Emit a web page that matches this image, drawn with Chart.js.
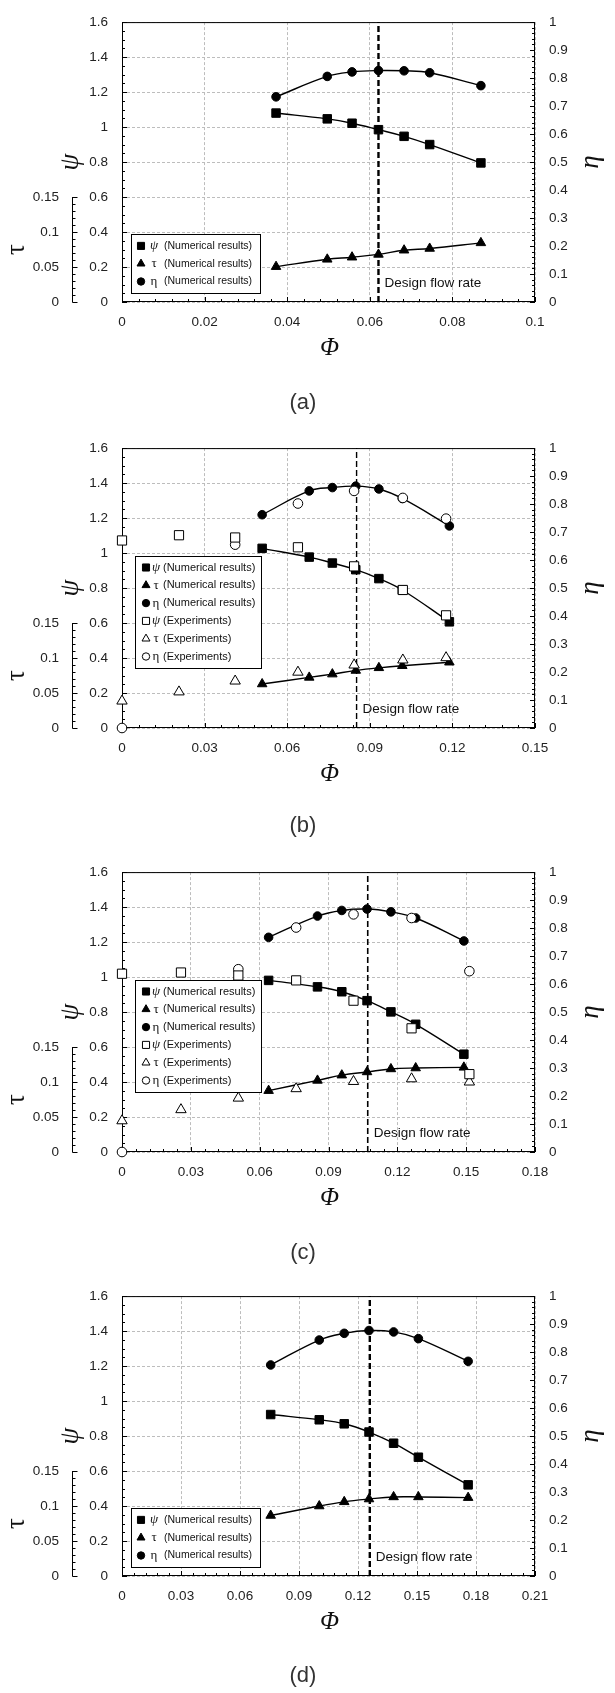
<!DOCTYPE html>
<html>
<head>
<meta charset="utf-8">
<script src="https://cdn.jsdelivr.net/npm/chart.js@4.4.1/dist/chart.umd.min.js"></script>
<style>
  body { margin: 0; background: #fff; width: 615px; height: 1693px; overflow: hidden; position: relative; }
  canvas { position: absolute; left: 0; }
  .cap { position: absolute; width: 40px; margin-left: -20px; text-align: center; font: 22px "Liberation Sans", Arial, sans-serif; color: #333; line-height: 26px; }
</style>
</head>
<body>
<canvas id="chartA" width="615" height="424" style="top:0px"></canvas>
<canvas id="chartB" width="615" height="424" style="top:426px"></canvas>
<canvas id="chartC" width="615" height="424" style="top:850px"></canvas>
<canvas id="chartD" width="615" height="424" style="top:1274px"></canvas>
<div class="cap" style="left:303px; top:389px">(a)</div>
<div class="cap" style="left:303px; top:812px">(b)</div>
<div class="cap" style="left:303px; top:1239px">(c)</div>
<div class="cap" style="left:303px; top:1662px">(d)</div>
<script>
// Axis ranges for the four panels
const X_MAX = [0.1, 0.15, 0.18, 0.21];
const X_STEP = [0.02, 0.03, 0.03, 0.03];
const DESIGN_PHI = [0.0621, 0.0852, 0.1071, 0.126];

// (a) numerical results
const PHI_A = [0.0373, 0.0497, 0.0557, 0.0621, 0.0683, 0.0745, 0.0869];
const PSI_A = [1.08, 1.047, 1.022, 0.985, 0.947, 0.90, 0.795];
const TAU_A = [0.0505, 0.061, 0.064, 0.068, 0.074, 0.0765, 0.0845];
const ETA_A = [0.733, 0.806, 0.822, 0.827, 0.826, 0.819, 0.773];

// (b) numerical results + experiments
const PHI_B = [0.0509, 0.068, 0.0764, 0.0849, 0.0933, 0.1018, 0.1189];
const PSI_B = [1.027, 0.977, 0.943, 0.905, 0.854, 0.789, 0.607];
const TAU_B = [0.0629, 0.0723, 0.077, 0.0822, 0.086, 0.089, 0.094];
const ETA_B = [0.762, 0.847, 0.859, 0.864, 0.854, 0.82, 0.722];
const PHI_B_EXP = [0, 0.0207, 0.0411, 0.0639, 0.0843, 0.102, 0.1177];
const PSI_B_EXP = [1.072, 1.102, 1.089, 1.033, 0.924, 0.789, 0.644];
const TAU_B_EXP = [0.0385, 0.0516, 0.0671, 0.0798, 0.090, 0.0972, 0.1005];
const ETA_B_EXP = [0, null, 0.655, 0.802, 0.847, 0.822, 0.748];

// (c) numerical results + experiments
const PHI_C = [0.0639, 0.0852, 0.0958, 0.1068, 0.1172, 0.128, 0.149];
const PSI_C = [0.981, 0.944, 0.916, 0.865, 0.801, 0.730, 0.559];
const TAU_C = [0.0877, 0.1023, 0.1098, 0.1144, 0.1187, 0.12, 0.121];
const ETA_C = [0.767, 0.843, 0.863, 0.868, 0.858, 0.836, 0.754];
const PHI_C_EXP = [0, 0.0257, 0.0507, 0.0759, 0.1009, 0.1262, 0.1514];
const PSI_C_EXP = [1.019, 1.026, 1.009, 0.981, 0.865, 0.707, 0.445];
const TAU_C_EXP = [0.0446, 0.0605, 0.077, 0.0905, 0.1008, 0.1046, 0.1];
const ETA_C_EXP = [0, null, 0.653, 0.802, 0.849, 0.836, 0.646];

// (d) numerical results
const PHI_D = [0.0756, 0.1003, 0.113, 0.1256, 0.1381, 0.1507, 0.176];
const PSI_D = [0.923, 0.893, 0.870, 0.823, 0.759, 0.679, 0.521];
const TAU_D = [0.0865, 0.100, 0.106, 0.110, 0.113, 0.113, 0.112];
const ETA_D = [0.754, 0.843, 0.867, 0.877, 0.872, 0.848, 0.767];

const NUM_LABEL = '(Numerical results)';
const EXP_LABEL = '(Experiments)';
const TICK_FONT = '"Liberation Sans", Arial, sans-serif';
const TEXT_FONT = '"Liberation Sans", Arial, sans-serif';
const SERIF = '"Liberation Serif", "DejaVu Serif", serif';

function pts(xs, ys) {
    const out = [];
    xs.forEach((x, i) => { if (ys[i] !== null) out.push({ x: x, y: ys[i] }); });
    return out;
}

function markerSet(label, sym, xs, ys, axis, style, radius, filled, line) {
    return {
        label: label,
        sym: sym,
        data: pts(xs, ys),
        yAxisID: axis,
        pointStyle: style,
        pointRadius: radius,
        pointHoverRadius: radius,
        pointBackgroundColor: filled ? '#000' : '#fff',
        pointBorderColor: '#000',
        pointBorderWidth: 1,
        filled: filled,
        borderColor: '#000',
        borderWidth: 1.4,
        showLine: line,
        tension: 0.4,
        fill: false,
        clip: false,
        order: filled ? 1 : 0
    };
}

function buildDatasets(num, exp, design, designWidth) {
    const sets = [
        markerSet(NUM_LABEL, 'ψ', num[0], num[1], 'y', 'rect', 6, true, true),
        markerSet(NUM_LABEL, 'τ', num[0], num[2], 'yTau', 'triangle', 5.5, true, true),
        markerSet(NUM_LABEL, 'η', num[0], num[3], 'yEta', 'circle', 4.3, true, true)
    ];
    if (exp) {
        sets.push(markerSet(EXP_LABEL, 'ψ', exp[0], exp[1], 'y', 'rect', 6.5, false, false));
        sets.push(markerSet(EXP_LABEL, 'τ', exp[0], exp[2], 'yTau', 'triangle', 6, false, false));
        sets.push(markerSet(EXP_LABEL, 'η', exp[0], exp[3], 'yEta', 'circle', 4.8, false, false));
    }
    sets.push({
        label: 'Design flow rate',
        data: [{ x: design, y: 0 }, { x: design, y: 1.6 }],
        yAxisID: 'y',
        borderColor: '#000',
        borderWidth: designWidth,
        borderDash: [6, 3],
        pointRadius: 0,
        showLine: true,
        tension: 0,
        order: 2
    });
    return sets;
}

function fmt(v) {
    return String(Number(v.toFixed(3)));
}

// Frame, inward ticks, tau sub-axis, titles, legend and design label
const decor = {
    id: 'decor',
    beforeDatasetsDraw(chart, args, opts) {
        const { ctx, chartArea: a, scales } = chart;
        const yS = scales.y, eS = scales.yEta, tS = scales.yTau, xS = scales.x;
        ctx.save();
        ctx.strokeStyle = '#000';
        ctx.lineWidth = 1;
        ctx.strokeRect(a.left + 0.5, a.top + 0.5, a.right - a.left - 1, a.bottom - a.top - 1);
        ctx.beginPath();
        const seg = (x1, y1, x2, y2) => { ctx.moveTo(x1, y1); ctx.lineTo(x2, y2); };
        for (let i = 0; i <= 32; i++) {
            const py = Math.round(yS.getPixelForValue(i * 0.05)) + 0.5;
            seg(a.left, py, a.left + (i % 4 === 0 ? 5 : 3), py);
        }
        for (let i = 0; i <= 50; i++) {
            const py = Math.round(eS.getPixelForValue(i * 0.02)) + 0.5;
            seg(a.right, py, a.right - (i % 5 === 0 ? 5 : 3), py);
        }
        const n = Math.round(opts.xMax / opts.xStep * 5);
        for (let i = 0; i <= n; i++) {
            const px = Math.round(xS.getPixelForValue(i * opts.xStep / 5)) + 0.5;
            seg(px, a.bottom, px, a.bottom - (i % 5 === 0 ? 5 : 3));
        }
        const tx = Math.round(tS.right) + 0.5;
        seg(tx, tS.getPixelForValue(0) + 0.5, tx, tS.getPixelForValue(0.15));
        for (let i = 0; i <= 15; i++) {
            const py = Math.round(tS.getPixelForValue(i * 0.01)) + 0.5;
            seg(tx, py, tx + (i % 5 === 0 ? 5 : 3), py);
        }
        ctx.stroke();
        ctx.restore();
    },
    afterDatasetsDraw(chart, args, opts) {
        const { ctx, chartArea: a, scales } = chart;
        ctx.save();
        ctx.fillStyle = '#111';

        // design flow rate label
        ctx.font = '13.5px ' + TEXT_FONT;
        ctx.textAlign = 'left';
        ctx.textBaseline = 'middle';
        ctx.fillText('Design flow rate', scales.x.getPixelForValue(opts.design) + 6, a.bottom - 19);

        // axis titles
        const rotText = (t, x, y, font) => {
            ctx.save();
            ctx.translate(x, y);
            ctx.rotate(-Math.PI / 2);
            ctx.font = font;
            ctx.textAlign = 'center';
            ctx.textBaseline = 'middle';
            ctx.fillText(t, 0, 0);
            ctx.restore();
        };
        rotText('ψ', a.left - 51, scales.y.getPixelForValue(0.8), 'italic 27px ' + SERIF);
        rotText('η', a.right + 56, scales.yEta.getPixelForValue(0.5), 'italic 27px ' + SERIF);
        rotText('τ', 17, scales.yTau.getPixelForValue(0.075), '27px ' + SERIF);
        ctx.font = 'italic 25px ' + SERIF;
        ctx.textAlign = 'center';
        ctx.textBaseline = 'middle';
        ctx.fillText('Φ', (a.left + a.right) / 2 + 1, a.bottom + 46);

        // legend box
        const lg = opts.legend;
        const items = chart.data.datasets.filter(d => d.sym);
        const rowH = 17.8;
        const h = 23 + (items.length - 1) * rowH;
        const left = a.left + lg.dx;
        const top = a.bottom - lg.dy - h;
        ctx.fillStyle = '#fff';
        ctx.fillRect(left, top, lg.w, h);
        ctx.strokeStyle = '#000';
        ctx.lineWidth = 1;
        ctx.strokeRect(Math.round(left) + 0.5, Math.round(top) + 0.5, lg.w, Math.round(h));
        items.forEach((d, i) => {
            const cy = top + 11.5 + i * rowH;
            const r = d.pointStyle === 'rect' ? 5 : (d.pointStyle === 'triangle' ? 4.6 : 3.7);
            ctx.fillStyle = d.filled ? '#000' : '#fff';
            ctx.strokeStyle = '#000';
            ctx.lineWidth = 1;
            Chart.helpers.drawPoint(ctx, { pointStyle: d.pointStyle, radius: r, rotation: 0, borderWidth: 1 }, left + lg.mx, cy);
            ctx.fillStyle = '#111';
            ctx.textBaseline = 'middle';
            ctx.textAlign = 'center';
            ctx.font = (d.sym === 'ψ' ? 'italic ' : '') + '13px ' + SERIF;
            ctx.fillText(d.sym, left + lg.sx, cy);
            ctx.textAlign = 'left';
            ctx.font = lg.font + 'px ' + TEXT_FONT;
            ctx.fillText(d.label, left + lg.tx, cy);
        });
        ctx.restore();
    }
};

const LEGEND_SMALL = { dx: 9, dy: 9, w: 129, font: 10.5, mx: 10, sx: 23, tx: 33 };
const LEGEND_LARGE = { dx: 13, dy: 60, w: 126, font: 11, mx: 11, sx: 21, tx: 28 };

const PANELS = [
    { id: 'chartA', num: [PHI_A, PSI_A, TAU_A, ETA_A], exp: null, dw: 2.4, legend: LEGEND_SMALL },
    { id: 'chartB', num: [PHI_B, PSI_B, TAU_B, ETA_B], exp: [PHI_B_EXP, PSI_B_EXP, TAU_B_EXP, ETA_B_EXP], dw: 1.4, legend: LEGEND_LARGE },
    { id: 'chartC', num: [PHI_C, PSI_C, TAU_C, ETA_C], exp: [PHI_C_EXP, PSI_C_EXP, TAU_C_EXP, ETA_C_EXP], dw: 1.6, legend: LEGEND_LARGE },
    { id: 'chartD', num: [PHI_D, PSI_D, TAU_D, ETA_D], exp: null, dw: 2.4, legend: LEGEND_SMALL }
];

function tickStyle(step, padding) {
    return {
        stepSize: step,
        padding: padding,
        color: '#222',
        font: { family: TICK_FONT, size: 13.5 },
        callback: fmt,
        autoSkip: false,
        maxRotation: 0
    };
}

const GRID = { color: '#bdbdbd', lineWidth: 1, drawTicks: false };
const NO_GRID = { display: false, drawTicks: false };

PANELS.forEach((p, k) => {
    const ctx = document.getElementById(p.id).getContext('2d');
    new Chart(ctx, {
        type: 'line',
        data: { datasets: buildDatasets(p.num, p.exp, DESIGN_PHI[k], p.dw) },
        plugins: [decor],
        options: {
            responsive: false,
            devicePixelRatio: 1,
            animation: false,
            events: [],
            layout: { padding: { top: 17, left: 0, right: 0, bottom: 0 } },
            plugins: {
                legend: { display: false },
                tooltip: { enabled: false },
                decor: { xMax: X_MAX[k], xStep: X_STEP[k], design: DESIGN_PHI[k], legend: p.legend }
            },
            scales: {
                x: {
                    type: 'linear', position: 'bottom', min: 0, max: X_MAX[k],
                    afterFit: s => { s.height = 122; },
                    ticks: tickStyle(X_STEP[k], 12),
                    grid: GRID,
                    border: { display: false, dash: [3, 2] }
                },
                y: {
                    type: 'linear', position: 'left', min: 0, max: 1.6, weight: 0,
                    afterFit: s => { s.width = 50; },
                    ticks: tickStyle(0.2, 14),
                    grid: GRID,
                    border: { display: false, dash: [3, 2] }
                },
                yTau: {
                    type: 'linear', position: 'left', min: 0, max: 0.4, weight: 1,
                    afterFit: s => { s.width = 72; },
                    afterBuildTicks: s => { s.ticks = s.ticks.filter(t => t.value <= 0.1501); },
                    ticks: tickStyle(0.05, 13),
                    grid: NO_GRID,
                    border: { display: false }
                },
                yEta: {
                    type: 'linear', position: 'right', min: 0, max: 1,
                    afterFit: s => { s.width = 80; },
                    ticks: tickStyle(0.1, 14),
                    grid: NO_GRID,
                    border: { display: false }
                }
            }
        }
    });
});
</script>
</body>
</html>
